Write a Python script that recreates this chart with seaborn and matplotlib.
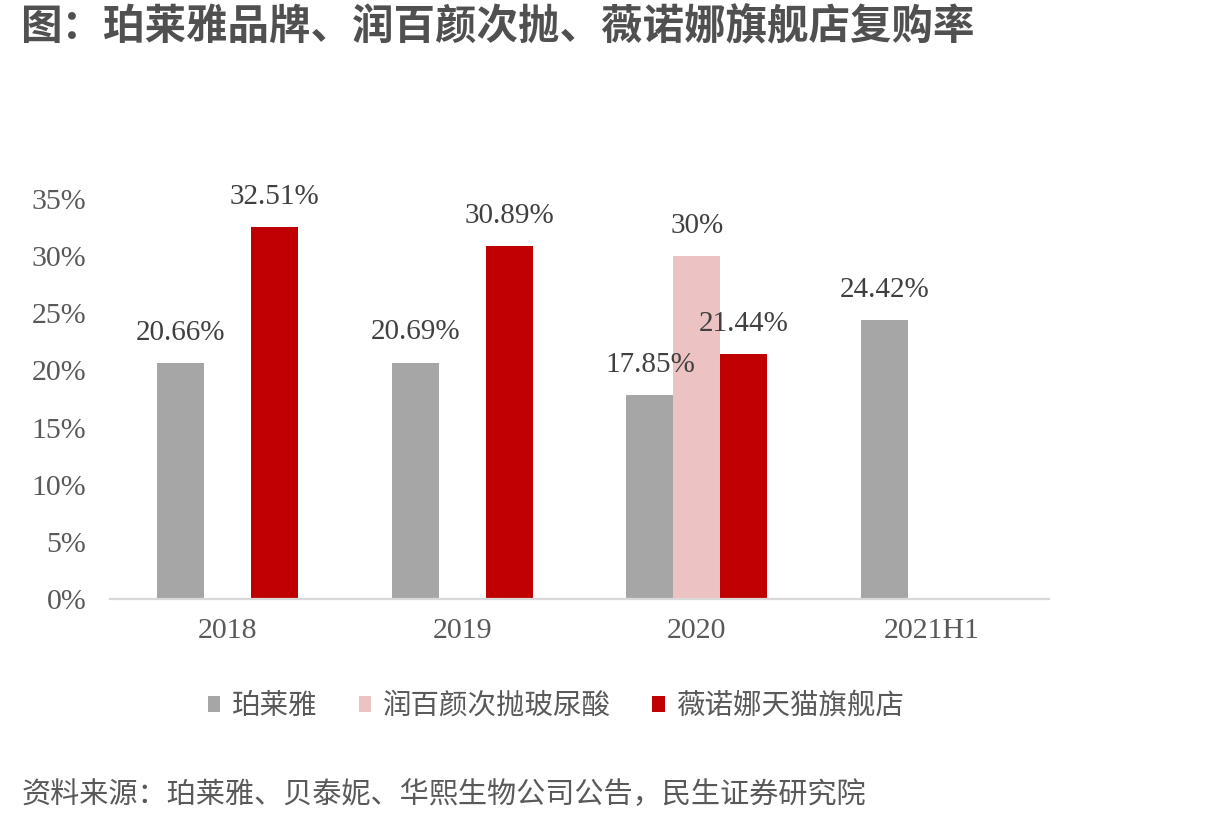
import matplotlib
matplotlib.use("Agg")
import matplotlib.pyplot as plt
import matplotlib.ticker as mticker
import seaborn as sns
import pandas as pd
import numpy as np

years = ["2018", "2019", "2020", "2021H1"]
series_names = ["珀莱雅", "润百颜次抛玻尿酸", "薇诺娜天猫旗舰店"]
proya = [20.66, 20.69, 17.85, 24.42]
runbaiyan = [np.nan, np.nan, 30.0, np.nan]
winona = [32.51, 30.89, 21.44, np.nan]
colors = ["#A6A6A6", "#ECC2C3", "#C00000"]

rows = []
for name, vals in zip(series_names, [proya, runbaiyan, winona]):
    for y, v in zip(years, vals):
        rows.append({"year": y, "series": name, "value": v})
df = pd.DataFrame(rows)

sns.set_theme(style="white")
plt.rcParams['font.family'] = ['Noto Sans CJK SC', 'DejaVu Sans']

fig = plt.figure(figsize=(12.26, 8.23), dpi=100)
ax = fig.add_axes([110/1226, 1-599/823, (1049-110)/1226, 400/823])

sns.barplot(data=df, x="year", y="value", hue="series", order=years,
            hue_order=series_names, palette=colors, width=0.6,
            saturation=1, ax=ax, legend=True, errorbar=None, linewidth=0)

ax.set_xlim(-0.5, 3.5)
ax.set_ylim(0, 35)
ax.yaxis.set_major_locator(mticker.MultipleLocator(5))
ax.yaxis.set_major_formatter(mticker.FuncFormatter(lambda v, p: f"{v:.0f}%"))
ax.set_xlabel("")
ax.set_ylabel("")

serif = ['Liberation Serif', 'DejaVu Serif']
for lab in ax.get_xticklabels() + ax.get_yticklabels():
    lab.set_family(serif)
    lab.set_fontsize(21.5)
    lab.set_color("#595959")
ax.tick_params(axis='x', length=0, pad=14)
ax.tick_params(axis='y', length=0, pad=17)

for s in ["top", "right", "left"]:
    ax.spines[s].set_visible(False)
ax.spines["bottom"].set_color("#D9D9D9")
ax.spines["bottom"].set_linewidth(1.6)

for cont in ax.containers:
    vals = [v for v in cont.datavalues]
    labels = ["" if not np.isfinite(v) else f"{v:g}%" for v in vals]
    ax.bar_label(cont, labels=labels, padding=12.5, fontsize=21,
                 family=serif, color="#404040")

leg = ax.get_legend()
handles, labels = ax.get_legend_handles_labels()
leg.remove()
fig.legend(handles, labels, loc="center", bbox_to_anchor=(556/1226, 1-706/823),
           ncol=3, frameon=False, fontsize=20.5, handlelength=0.45, handleheight=0.45,
           handletextpad=0.4, columnspacing=1.45, labelcolor="#595959")

fig.text(20/1226, 1-27/823, "图：珀莱雅品牌、润百颜次抛、薇诺娜旗舰店复购率",
         fontsize=29.9, fontweight="heavy", color="#505050", va="center", ha="left")
fig.text(22/1226, 1-795/823, "资料来源：珀莱雅、贝泰妮、华熙生物公司公告，民生证券研究院",
         fontsize=21, color="#595959", va="center", ha="left")

fig.savefig("out.png", dpi=100)
